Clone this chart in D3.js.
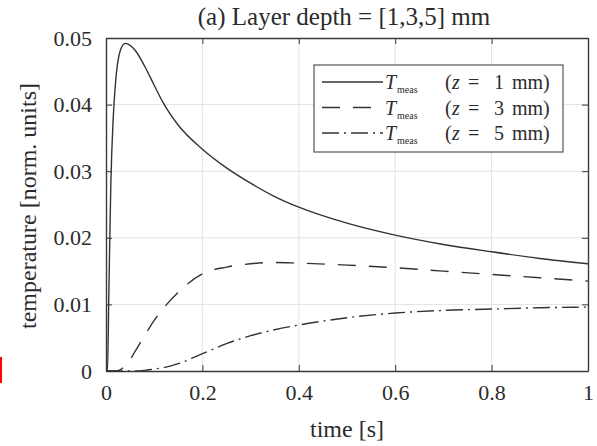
<!DOCTYPE html>
<html>
<head>
<meta charset="UTF-8">
<title>Layer depth</title>
<style>
  body { margin: 0; background: #fff; }
  text { font-family: "Liberation Serif", "DejaVu Serif", serif; fill: #2b2b2b; }
</style>
</head>
<body>
<script src="https://cdn.jsdelivr.net/npm/d3@7"></script>
<script>
// data
var time = [0, 0.003, 0.006, 0.01, 0.015, 0.02, 0.03, 0.04, 0.05, 0.06, 0.08, 0.1, 0.12,
            0.15, 0.2, 0.25, 0.3, 0.35, 0.4, 0.5, 0.6, 0.7, 0.8, 0.9, 1.0];
var tz1 = [0, 0, 0.012, 0.028, 0.038, 0.0435, 0.0482, 0.0492, 0.0489, 0.0482, 0.0458, 0.0429, 0.0401,
           0.0369, 0.0333, 0.0305, 0.0282, 0.0262, 0.0246, 0.0222, 0.0204, 0.0190, 0.0179, 0.0169, 0.0161];
var tz3 = [0, 0, 0, 0, 0, 0, 0.0002, 0.0008, 0.0017, 0.0029, 0.0053, 0.0076, 0.0095,
           0.0118, 0.0146, 0.0156, 0.0161, 0.0163, 0.0162, 0.0159, 0.0155, 0.0150, 0.0145, 0.0140, 0.0135];
var tz5 = [0, 0, 0, 0, 0, 0, 0, 0, 0, 0, 0.0001, 0.0003, 0.0005,
           0.0011, 0.0026, 0.0041, 0.0053, 0.0062, 0.0069, 0.0080, 0.0087, 0.0091, 0.0093, 0.0095, 0.0096];
var depths = ["1", "3", "5"];
var xTicks = [0, 0.2, 0.4, 0.6, 0.8, 1];
var yTicks = [0, 0.01, 0.02, 0.03, 0.04, 0.05];

var width = 597, height = 446;
var pL = 106, pR = 588, pT = 38, pB = 371;

var svg = d3.select("body").append("svg")
    .attr("width", width)
    .attr("height", height);

var x = d3.scaleLinear().domain([0, 1]).range([pL, pR]);
var y = d3.scaleLinear().domain([0, 0.05]).range([pB, pT]);

// grid
svg.append("g").selectAll("line").data(xTicks.slice(1, -1)).enter().append("line")
    .attr("x1", d => x(d)).attr("x2", d => x(d))
    .attr("y1", pT).attr("y2", pB)
    .attr("stroke", "#e2e2e2").attr("stroke-width", 1);
svg.append("g").selectAll("line").data(yTicks.slice(1, -1)).enter().append("line")
    .attr("x1", pL).attr("x2", pR)
    .attr("y1", d => y(d)).attr("y2", d => y(d))
    .attr("stroke", "#e2e2e2").attr("stroke-width", 1);

// axes, ticks inward on all four sides
var fmt = d => String(d);
var axB = svg.append("g").attr("transform", "translate(0," + pB + ")")
    .call(d3.axisBottom(x).tickValues(xTicks).tickFormat(fmt).tickSizeInner(-6).tickSizeOuter(0).tickPadding(13));
var axT = svg.append("g").attr("transform", "translate(0," + pT + ")")
    .call(d3.axisTop(x).tickValues(xTicks).tickFormat("").tickSizeInner(-6).tickSizeOuter(0));
var axL = svg.append("g").attr("transform", "translate(" + pL + ",0)")
    .call(d3.axisLeft(y).tickValues(yTicks).tickFormat(fmt).tickSizeInner(-6).tickSizeOuter(0).tickPadding(14));
var axR = svg.append("g").attr("transform", "translate(" + pR + ",0)")
    .call(d3.axisRight(y).tickValues(yTicks).tickFormat("").tickSizeInner(-6).tickSizeOuter(0));
[axB, axT, axL, axR].forEach(function(a) {
  a.select(".domain").attr("stroke", "#3a3a3a").attr("stroke-width", 1.4);
  a.selectAll(".tick line").attr("stroke", "#3a3a3a").attr("stroke-width", 1);
  a.selectAll("text").attr("font-size", 22).attr("font-family", null).attr("fill", "#333");
});

// curves
var series = [
  {vals: tz1, dash: null},
  {vals: tz3, dash: "18,13"},
  {vals: tz5, dash: "17,5,2,5"}
];
var line = d3.line()
    .x((d, i) => x(time[i]))
    .y(d => y(d))
    .curve(d3.curveMonotoneX);
series.forEach(function(s) {
  svg.append("path")
      .datum(s.vals)
      .attr("d", line)
      .attr("fill", "none")
      .attr("stroke", "#333")
      .attr("stroke-width", 1.4)
      .attr("stroke-dasharray", s.dash);
});

// legend
var lg = svg.append("g");
lg.append("rect")
    .attr("x", 314).attr("y", 65).attr("width", 249).attr("height", 87)
    .attr("fill", "#fff").attr("stroke", "#555").attr("stroke-width", 1.2);
series.forEach(function(s, i) {
  var ly = 82 + i * 25.5;
  lg.append("line")
      .attr("x1", 322).attr("x2", 383).attr("y1", ly).attr("y2", ly)
      .attr("stroke", "#333").attr("stroke-width", 1.4)
      .attr("stroke-dasharray", s.dash);
  var t = lg.append("text").attr("y", ly + 7).attr("font-size", 20);
  t.append("tspan").attr("x", 385).attr("font-style", "italic").text("T");
  t.append("tspan").attr("x", 397).attr("font-size", 10).attr("dy", 4).text("meas");
  t.append("tspan").attr("x", 445).attr("dy", -4).text("(");
  t.append("tspan").attr("x", 452).attr("font-style", "italic").text("z");
  t.append("tspan").attr("x", 468).text("=");
  t.append("tspan").attr("x", 494).text(depths[i]);
  t.append("tspan").attr("x", 512).text("mm)");
});

// titles
svg.append("text").attr("x", 344).attr("y", 25).attr("text-anchor", "middle")
    .attr("font-size", 25).text("(a) Layer depth = [1,3,5] mm");
svg.append("text").attr("x", 347).attr("y", 437).attr("text-anchor", "middle")
    .attr("font-size", 24).text("time [s]");
svg.append("text").attr("transform", "translate(36,206) rotate(-90)").attr("text-anchor", "middle")
    .attr("font-size", 24).text("temperature [norm. units]");

// red mark at left edge
svg.append("rect").attr("x", 0).attr("y", 357).attr("width", 2).attr("height", 26).attr("fill", "#ff0000");
</script>
</body>
</html>
